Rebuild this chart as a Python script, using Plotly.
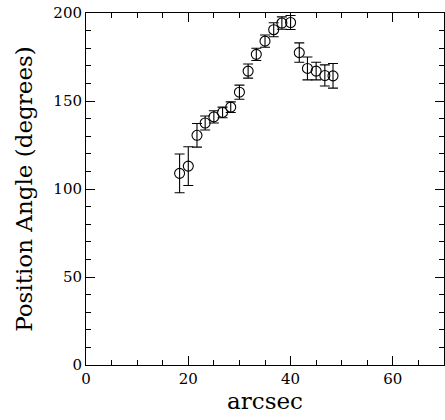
import plotly.graph_objects as go

arcsec = [18.3, 20.0, 21.7, 23.3, 25.0, 26.7, 28.3, 30.0, 31.7, 33.3,
          35.0, 36.7, 38.3, 40.0, 41.7, 43.3, 45.0, 46.7, 48.3]
position_angle = [108.9, 113.0, 130.5, 137.5, 141.0, 143.5, 146.5, 155.0, 167.0, 176.5,
                  184.0, 190.5, 194.3, 194.6, 177.5, 168.5, 167.0, 164.5, 164.3]
pa_error = [11.0, 11.0, 6.7, 4.0, 3.5, 3.0, 3.0, 4.0, 4.0, 3.5,
            3.5, 4.0, 3.5, 4.0, 5.5, 6.5, 5.0, 6.0, 7.0]

x_ticks = [0, 20, 40, 60]
y_ticks = [0, 50, 100, 150, 200]

font_family = "DejaVu Serif, Liberation Serif, serif"

fig = go.Figure()
fig.add_trace(go.Scatter(
    x=arcsec, y=position_angle, mode="markers",
    marker=dict(symbol="circle-open", size=10, color="black", line=dict(width=1.1, color="black")),
    error_y=dict(type="data", array=pa_error, visible=True, color="black", thickness=1.1, width=5),
    showlegend=False,
))

axis_common = dict(
    showgrid=False, zeroline=False, showline=True, linecolor="black", linewidth=1,
    mirror="allticks", ticks="inside", ticklen=9, tickwidth=1, tickcolor="black",
    tickfont=dict(family=font_family, size=15, color="black"),
)

fig.update_xaxes(
    range=[0, 70], tickvals=x_ticks, ticktext=[str(v) for v in x_ticks],
    minor=dict(dtick=5, ticks="inside", ticklen=5, tickcolor="black", tickwidth=1, showgrid=False),
    title=dict(text="arcsec", font=dict(family=font_family, size=23, color="black"), standoff=2),
    **axis_common,
)
fig.update_yaxes(
    range=[0, 200], tickvals=y_ticks, ticktext=[str(v) for v in y_ticks],
    minor=dict(dtick=10, ticks="inside", ticklen=5, tickcolor="black", tickwidth=1, showgrid=False),
    title=dict(text="Position Angle (degrees)", font=dict(family=font_family, size=23, color="black"), standoff=14),
    **axis_common,
)

fig.update_layout(
    width=445, height=420,
    margin=dict(l=86, r=1, t=13, b=55),
    paper_bgcolor="white", plot_bgcolor="white",
)

fig.write_html("out.html")
